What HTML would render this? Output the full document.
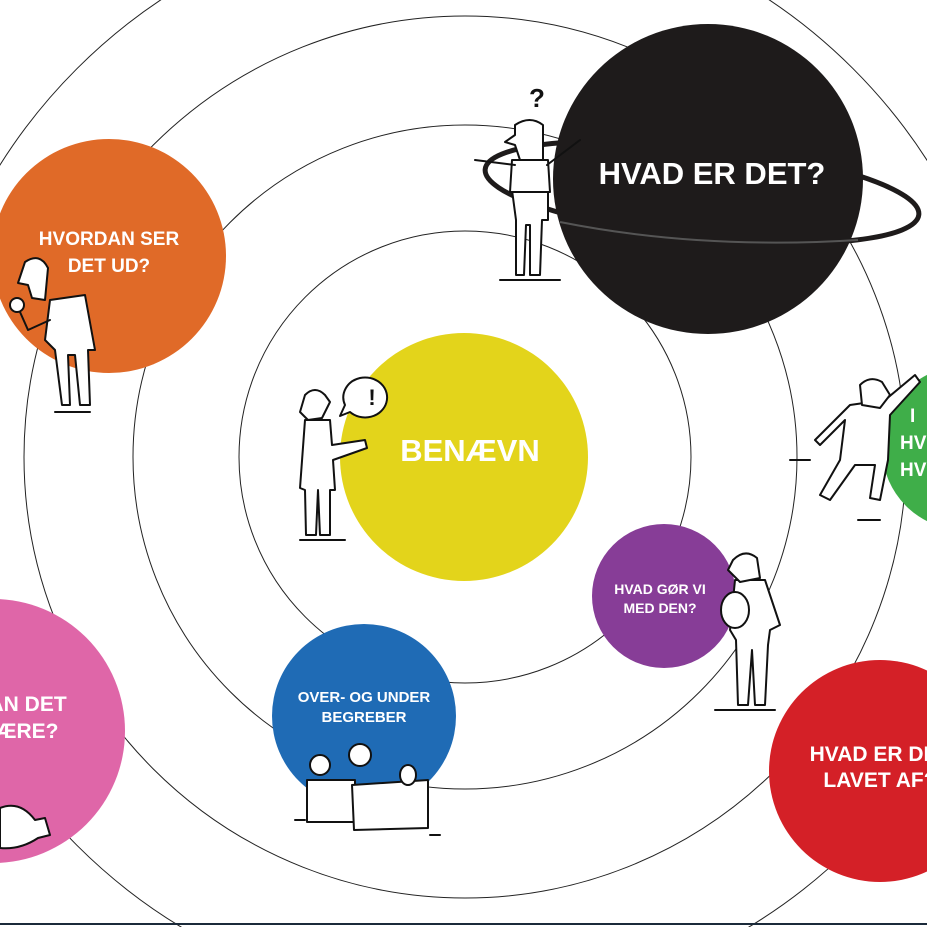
<!DOCTYPE html>
<html><head><meta charset="utf-8"><style>
html,body{margin:0;padding:0;background:#fff;width:927px;height:927px;overflow:hidden}
svg{display:block}
text{font-family:"Liberation Sans",Arial,sans-serif;font-weight:bold;fill:#fff;text-anchor:middle}
.f{fill:#fff;stroke:#111;stroke-width:2;stroke-linejoin:round;stroke-linecap:round}
.l{fill:none;stroke:#111;stroke-width:2;stroke-linecap:round}
</style></head><body>
<svg width="927" height="927" viewBox="0 0 927 927" xmlns="http://www.w3.org/2000/svg">
<g fill="none" stroke="#222" stroke-width="1">
<circle cx="465" cy="457" r="226"/>
<circle cx="465" cy="457" r="332"/>
<circle cx="465" cy="457" r="441"/>
<circle cx="465" cy="457" r="549"/>
</g>
<line x1="0" y1="924" x2="927" y2="924" stroke="#1b2a3a" stroke-width="2"/>

<!-- black planet -->
<ellipse cx="702" cy="192" rx="218" ry="46" transform="rotate(6 702 192)" fill="none" stroke="#1e1b1b" stroke-width="5"/>
<circle cx="708" cy="179" r="155" fill="#1e1b1b"/>
<path d="M560 222 Q700 250 858 240" fill="none" stroke="#555" stroke-width="2"/>
<text x="712" y="184" font-size="31">HVAD ER DET?</text>

<!-- orange -->
<circle cx="109" cy="256" r="117" fill="#e06a28"/>
<text x="109" y="245" font-size="19">HVORDAN SER</text>
<text x="109" y="272" font-size="19">DET UD?</text>

<!-- yellow -->
<circle cx="464" cy="457" r="124" fill="#e3d41b"/>
<text x="470" y="461" font-size="31">BENÆVN</text>

<!-- green -->
<circle cx="964" cy="448" r="82" fill="#3fae49"/>
<text x="910" y="422" font-size="19" style="text-anchor:start">I</text>
<text x="900" y="449" font-size="19" style="text-anchor:start">HVOR</text>
<text x="900" y="476" font-size="19" style="text-anchor:start">HVEM</text>

<!-- purple -->
<circle cx="664" cy="596" r="72" fill="#873d97"/>
<text x="660" y="594" font-size="14">HVAD GØR VI</text>
<text x="660" y="613" font-size="14">MED DEN?</text>

<!-- blue -->
<circle cx="364" cy="716" r="92" fill="#1f6bb5"/>
<text x="364" y="702" font-size="15">OVER- OG UNDER</text>
<text x="364" y="722" font-size="15">BEGREBER</text>

<!-- pink -->
<circle cx="-7" cy="731" r="132" fill="#df66a8"/>
<text x="20" y="711" font-size="21">KAN DET</text>
<text x="20" y="738" font-size="21">VÆRE?</text>

<!-- red -->
<circle cx="880" cy="771" r="111" fill="#d42027"/>
<text x="880" y="761" font-size="21">HVAD ER DET</text>
<text x="880" y="787" font-size="21">LAVET AF?</text>

<!-- figure top (question) -->
<path class="f" d="M512 190 L548 190 L548 220 L542 220 L540 275 L530 275 L530 225 L526 225 L524 275 L516 275 L516 220 Z"/>
<path class="f" d="M512 160 L548 160 L550 192 L510 192 Z"/>
<path class="l" d="M515 165 L475 160 M547 165 L580 140"/>
<path class="f" d="M515 125 Q530 115 543 125 L543 160 L520 160 L515 145 L505 142 L515 135 Z"/>
<text x="537" y="107" font-size="26" style="fill:#111">?</text>
<path class="l" d="M500 280 L560 280"/>

<!-- figure orange (magnifier) -->
<path class="f" d="M50 300 L85 295 L95 350 L88 350 L90 405 L80 405 L75 355 L68 355 L70 405 L62 405 L55 350 L45 340 Z"/>
<path class="f" d="M25 262 Q40 252 48 268 L45 300 L32 298 L28 285 L18 283 Z"/>
<circle class="f" cx="17" cy="305" r="7"/>
<path class="l" d="M20 312 L28 330 M50 320 L28 330"/>
<path class="l" d="M55 412 L90 412"/>

<!-- figure yellow (!) -->
<path class="f" d="M305 420 L330 420 L332 445 L365 440 L367 448 L333 460 L335 490 L330 490 L330 535 L320 535 L318 490 L316 535 L306 535 L305 490 L300 488 Z"/>
<path class="f" d="M305 395 Q315 385 325 395 L330 402 L322 418 L308 420 L300 412 Z"/>
<path class="f" d="M360 378 A22 20 0 1 1 350 412 L340 416 L345 405 A22 20 0 0 1 360 378 Z"/>
<text x="372" y="405" font-size="22" style="fill:#111">!</text>
<path class="l" d="M300 540 L345 540"/>

<!-- green figure running -->
<path class="f" d="M850 405 L885 400 L915 375 L920 382 L890 415 L888 460 L880 500 L870 498 L875 465 L855 465 L830 500 L820 495 L840 460 L845 420 L820 445 L815 440 Z"/>
<path class="f" d="M860 385 Q870 375 882 382 L890 395 L880 408 L862 405 Z"/>
<path class="l" d="M790 460 L810 460 M858 520 L880 520"/>

<!-- purple figure -->
<path class="f" d="M735 580 L765 580 L780 625 L770 630 L768 645 L765 705 L755 705 L752 650 L748 705 L738 705 L736 640 L730 630 Z"/>
<path class="f" d="M733 560 Q745 548 757 558 L760 578 L740 582 L728 570 Z"/>
<ellipse class="f" cx="735" cy="610" rx="14" ry="18"/>
<path class="l" d="M715 710 L775 710"/>

<!-- boxes -->
<path class="f" d="M307 780 L355 780 L355 822 L307 822 Z"/>
<path class="f" d="M352 785 L428 780 L428 828 L354 830 Z"/>
<circle class="f" cx="320" cy="765" r="10"/>
<circle class="f" cx="360" cy="755" r="11"/>
<ellipse class="f" cx="408" cy="775" rx="8" ry="10"/>
<path class="l" d="M295 820 L305 820 M430 835 L440 835"/>

<!-- bulb -->
<path class="f" d="M0 808 Q20 800 35 820 L45 818 L50 835 L38 838 Q20 850 0 848 Z"/>
</svg>
</body></html>
